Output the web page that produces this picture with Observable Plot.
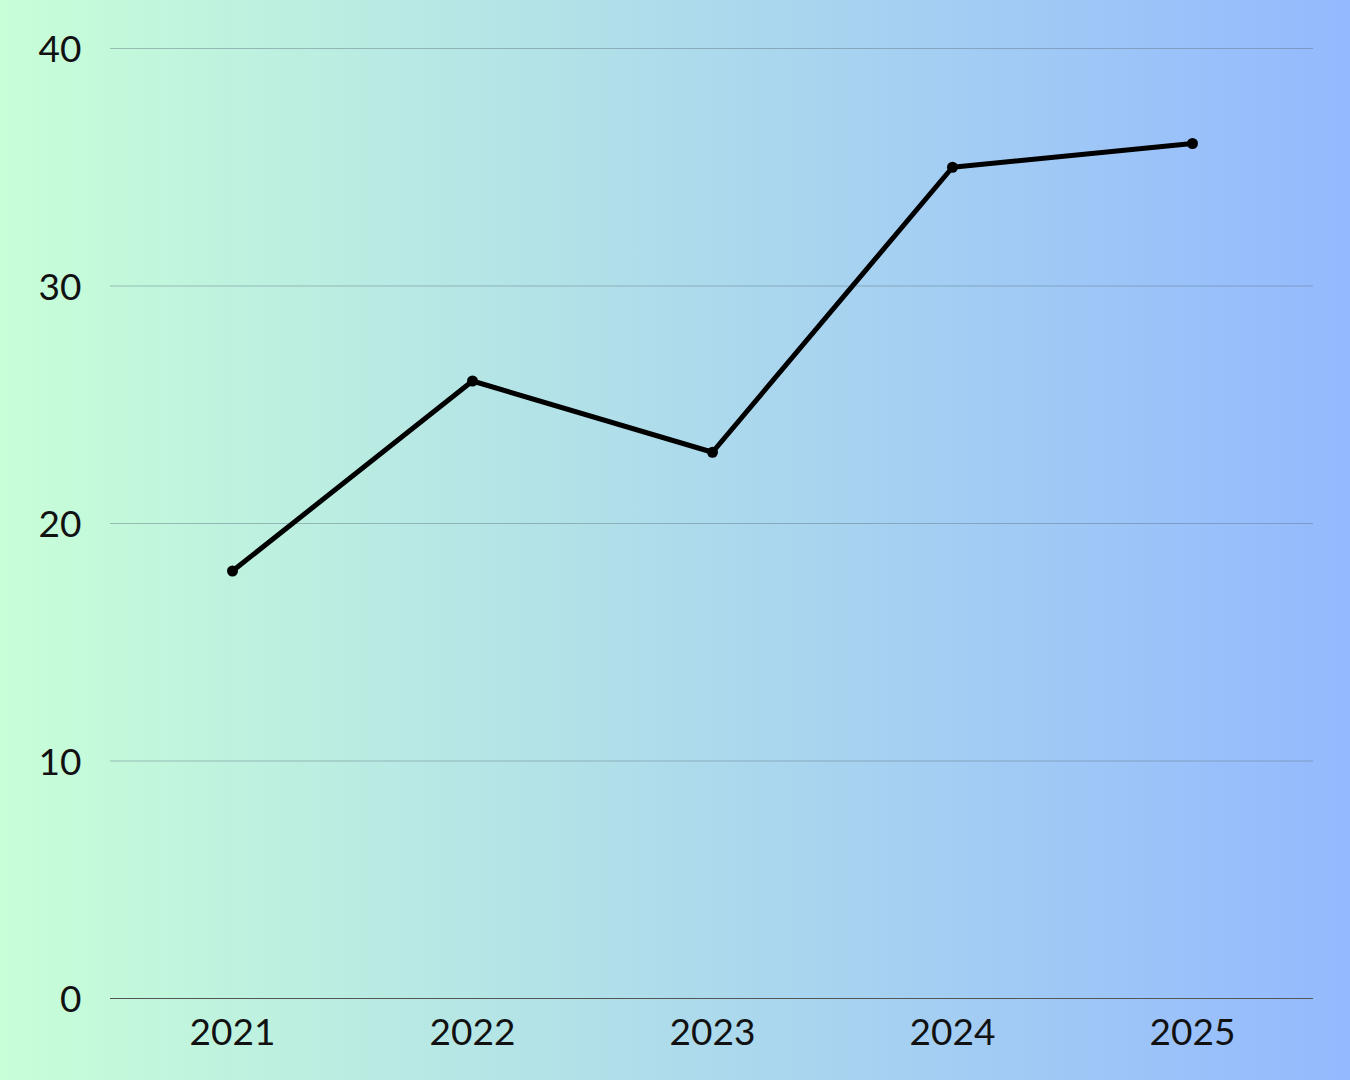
<!DOCTYPE html>
<html>
<head>
<meta charset="utf-8">
<script src="https://cdn.jsdelivr.net/npm/d3@7"></script>
<script src="https://cdn.jsdelivr.net/npm/@observablehq/plot@0.6"></script>
<style>
  html, body { margin: 0; padding: 0; }
  body {
    width: 1350px; height: 1080px; overflow: hidden;
    background: linear-gradient(to right, #c8fed8, #94b9fe);
  }
  #chart svg { display: block; background: transparent; }
</style>
</head>
<body>
<div id="chart"></div>
<script>
const years = ["2021", "2022", "2023", "2024", "2025"];
const values = [18, 26, 23, 35, 36];
const yTicks = [0, 10, 20, 30, 40];

const data = years.map((y, i) => ({ year: y, value: values[i] }));

const chart = Plot.plot({
  width: 1350,
  height: 1080,
  marginLeft: 110,
  marginRight: 37,
  marginTop: 48,
  marginBottom: 82,
  style: { background: "transparent", fontFamily: "Lato, sans-serif", fontSize: "36px", color: "#111" },
  x: { type: "point", domain: years, padding: 0.5, label: null },
  y: { domain: [0, 40], ticks: yTicks, label: null },
  marks: [
    Plot.gridY(yTicks.filter(d => d > 0), { stroke: "#5f7480", strokeOpacity: 0.45, strokeWidth: 1.2 }),
    Plot.ruleY([0], { stroke: "#555", strokeWidth: 1.2 }),
    Plot.axisY(yTicks, { tickSize: 0, tickPadding: 29, fontSize: 37, fill: "#111", dy: 2 }),
    Plot.axisX({ tickSize: 0, tickPadding: 20, fontSize: 37, fill: "#111" }),
    Plot.line(data, { x: "year", y: "value", stroke: "#000", strokeWidth: 5 }),
    Plot.dot(data, { x: "year", y: "value", fill: "#000", r: 5.5 })
  ]
});
document.getElementById("chart").appendChild(chart);
</script>
</body>
</html>
